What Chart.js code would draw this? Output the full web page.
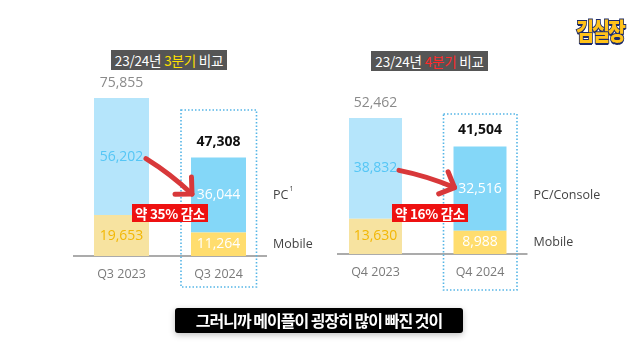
<!DOCTYPE html>
<html><head><meta charset="utf-8">
<script src="https://cdn.jsdelivr.net/npm/chart.js@4.4.0/dist/chart.umd.min.js"></script>
<style>
html,body{margin:0;padding:0;background:#fff;width:640px;height:359px;overflow:hidden;}
#wrap{position:relative;width:640px;height:359px;}
canvas{position:absolute;top:0;}
#c1{left:0;} #c2{left:320px;}
.title{position:absolute;background:#555;color:#fff;font:400 13.5px "Noto Sans CJK KR",sans-serif;letter-spacing:-0.2px;height:20px;line-height:20px;padding:0 2px;white-space:nowrap;text-align:center;}
.red{position:absolute;background:#EE1111;color:#fff;font:700 13.5px "Noto Sans CJK KR",sans-serif;height:18px;line-height:18px;letter-spacing:-0.3px;white-space:nowrap;text-align:center;}
#sub{position:absolute;left:175px;top:308px;width:288px;height:25px;background:#000;border-radius:3px;color:#fff;font:700 16px "Noto Sans CJK KR",sans-serif;letter-spacing:-1px;line-height:25px;text-align:center;white-space:nowrap;box-shadow:0 2px 6px rgba(0,0,0,0.25);}
#logo{position:absolute;left:576px;top:12px;font:900 19.5px "Noto Sans CJK KR",sans-serif;letter-spacing:-2px;color:#FFC21A;-webkit-text-stroke:1.6px #1B2A6B;paint-order:stroke fill;text-shadow:0 2px 0 #1B2A6B;transform:scaleY(1.2);transform-origin:top left;}
</style></head>
<body><div id="wrap">
<canvas id="c1" width="320" height="359"></canvas>
<canvas id="c2" width="320" height="359"></canvas>
<div class="title" style="left:111px;top:50px;width:112px;">23/24년 <span style="color:#FFE000">3분기</span> 비교</div>
<div class="title" style="left:371px;top:51px;width:113px;">23/24년 <span style="color:#FF2A2A">4분기</span> 비교</div>
<div class="red" style="left:132px;top:204px;width:76px;">약 35% 감소</div>
<div class="red" style="left:392px;top:204px;width:76px;">약 16% 감소</div>
<div id="sub">그러니까 메이플이 굉장히 많이 빠진 것이</div>
<div id="logo">김실장</div>
</div>
<script>
const quarters3 = ['Q3 2023', 'Q3 2024'];
const pc3 = [56202, 36044];
const mobile3 = [19653, 11264];
const quarters4 = ['Q4 2023', 'Q4 2024'];
const pc4 = [38832, 32516];
const mobile4 = [13630, 8988];
const seriesNames3 = ['PC', 'Mobile'];
const seriesNames4 = ['PC/Console', 'Mobile'];

const NUM_FONT = '"Open Sans", sans-serif';
const fmt = v => v.toLocaleString('en-US');

const panelPlugin = {
  id: 'panel',
  beforeDatasetsDraw(chart, args, o) {
    const ctx = chart.ctx;
    const m = chart.getDatasetMeta(0).data;
    const base = m[0].base;
    ctx.save();
    ctx.strokeStyle = '#8f8f8f';
    ctx.lineWidth = 1.5;
    ctx.beginPath();
    ctx.moveTo(m[0].x - m[0].width / 2 - o.lineLeft, base);
    ctx.lineTo(m[1].x + m[1].width / 2 + o.lineRight, base);
    ctx.stroke();
    const x0 = m[1].x - m[1].width / 2 - 10, x1 = m[1].x + m[1].width / 2 + 10.5;
    const y0 = chart.chartArea.top + o.boxTop, y1 = base + o.boxBottom;
    ctx.strokeStyle = '#55B5E6';
    ctx.lineWidth = 1.6;
    ctx.setLineDash([1.5, 2]);
    ctx.strokeRect(x0, y0, x1 - x0, y1 - y0);
    ctx.restore();
  },
  afterDatasetsDraw(chart, args, o) {
    const ctx = chart.ctx;
    const m = chart.getDatasetMeta(0).data;
    const p = chart.getDatasetMeta(1).data;
    const mv = chart.data.datasets[0].data, pv = chart.data.datasets[1].data;
    ctx.save();
    ctx.textAlign = 'center';
    ctx.textBaseline = 'middle';
    for (let i = 0; i < 2; i++) {
      ctx.font = '400 14px ' + NUM_FONT;
      ctx.fillStyle = o.pcColors[i];
      ctx.fillText(fmt(pv[i]), p[i].x, (p[i].y + p[i].base) / 2);
      ctx.fillStyle = o.mColors[i];
      ctx.fillText(fmt(mv[i]), m[i].x, (m[i].y + m[i].base) / 2);
      const tot = pv[i] + mv[i];
      if (i === 0) { ctx.font = '400 14px ' + NUM_FONT; ctx.fillStyle = '#8a8a8a'; }
      else { ctx.font = '700 14px ' + NUM_FONT; ctx.fillStyle = '#111'; }
      ctx.fillText(fmt(tot), p[i].x, p[i].y - 15 - (i === 1 ? o.totExtra : 0));
      ctx.font = '400 12.5px ' + NUM_FONT;
      ctx.fillStyle = '#7a7a7a';
      ctx.fillText(chart.data.labels[i], m[i].x, m[i].base + o.catDy);
    }
    ctx.textAlign = 'left';
    ctx.fillStyle = '#444';
    ctx.font = '400 12.5px ' + NUM_FONT;
    const lx = m[1].x + m[1].width / 2 + 27;
    const pcY = (p[1].y + p[1].base) / 2 + o.pcLegendDy;
    ctx.fillText(o.names[0], lx, pcY);
    if (o.sup) {
      const w = ctx.measureText(o.names[0]).width;
      ctx.font = '400 7px ' + NUM_FONT;
      ctx.fillText(o.sup, lx + w + 1, pcY - 6);
      ctx.font = '400 12.5px ' + NUM_FONT;
    }
    ctx.fillText(o.names[1], lx, (m[1].y + m[1].base) / 2);
    // arrow
    const sx = p[0].x + p[0].width / 2 - 3, sy = (p[0].y + p[0].base) / 2 + 2;
    const ex = p[1].x - p[1].width / 2 + 1, ey = (p[1].y + p[1].base) / 2 - 1;
    const mx = (sx + ex) / 2, my = (sy + ey) / 2;
    const dx = ex - sx, dy = ey - sy, len = Math.hypot(dx, dy);
    const cx = mx + (dy / len) * 3, cy = my - (dx / len) * 3;
    ctx.strokeStyle = '#D8383A';
    ctx.lineWidth = 5;
    ctx.lineCap = 'round';
    ctx.lineJoin = 'round';
    ctx.beginPath();
    ctx.moveTo(sx, sy);
    ctx.quadraticCurveTo(cx, cy, ex, ey);
    ctx.stroke();
    const ang = Math.atan2(ey - cy, ex - cx);
    const L = 17;
    ctx.beginPath();
    ctx.moveTo(ex + Math.cos(ang + Math.PI - 0.78) * L, ey + Math.sin(ang + Math.PI - 0.78) * L);
    ctx.lineTo(ex, ey);
    ctx.lineTo(ex + Math.cos(ang + Math.PI + 0.78) * L, ey + Math.sin(ang + Math.PI + 0.78) * L);
    ctx.stroke();
    ctx.restore();
  }
};

function makePanel(id, labels, pc, mobile, names, o) {
  const totals = pc.map((v, i) => v + mobile[i]);
  return new Chart(document.getElementById(id), {
    type: 'bar',
    data: {
      labels: labels,
      datasets: [
        { label: names[1], data: mobile, backgroundColor: ['#F7E3A0', '#FFDD6E'], borderWidth: 0 },
        { label: names[0], data: pc, backgroundColor: ['#B5E5FB', '#84D7F8'], borderWidth: 0 }
      ]
    },
    options: {
      responsive: false,
      animation: false,
      layout: { padding: o.padding },
      datasets: { bar: { barPercentage: o.barPct, categoryPercentage: 1 } },
      plugins: {
        legend: { display: false },
        tooltip: { enabled: false },
        panel: Object.assign({ names: names }, o.panel)
      },
      scales: {
        x: { stacked: true, display: false },
        y: { stacked: true, display: false, min: 0, max: Math.max(...totals) }
      }
    },
    plugins: [panelPlugin]
  });
}

makePanel('c1', quarters3, pc3, mobile3, seriesNames3, {
  padding: { left: 73, right: 53, top: 98, bottom: 103 },
  barPct: 0.567,
  panel: { lineLeft: 21, lineRight: 21, boxTop: 12, boxBottom: 31, pcColors: ['#55C6F5', '#ffffff'], mColors: ['#F2B705', '#ffffff'], pcLegendDy: 0, sup: '1', catDy: 18, totExtra: 0 }
});
makePanel('c2', quarters4, pc4, mobile4, seriesNames4, {
  padding: { left: 3.25, right: 107.75, top: 118, bottom: 105 },
  barPct: 0.507,
  panel: { lineLeft: 12, lineRight: 21, boxTop: -4, boxBottom: 36, pcColors: ['#55C6F5', '#ffffff'], mColors: ['#F2B705', '#ffffff'], pcLegendDy: 7, sup: '', catDy: 18, totExtra: 1 }
});
</script>
</body></html>
